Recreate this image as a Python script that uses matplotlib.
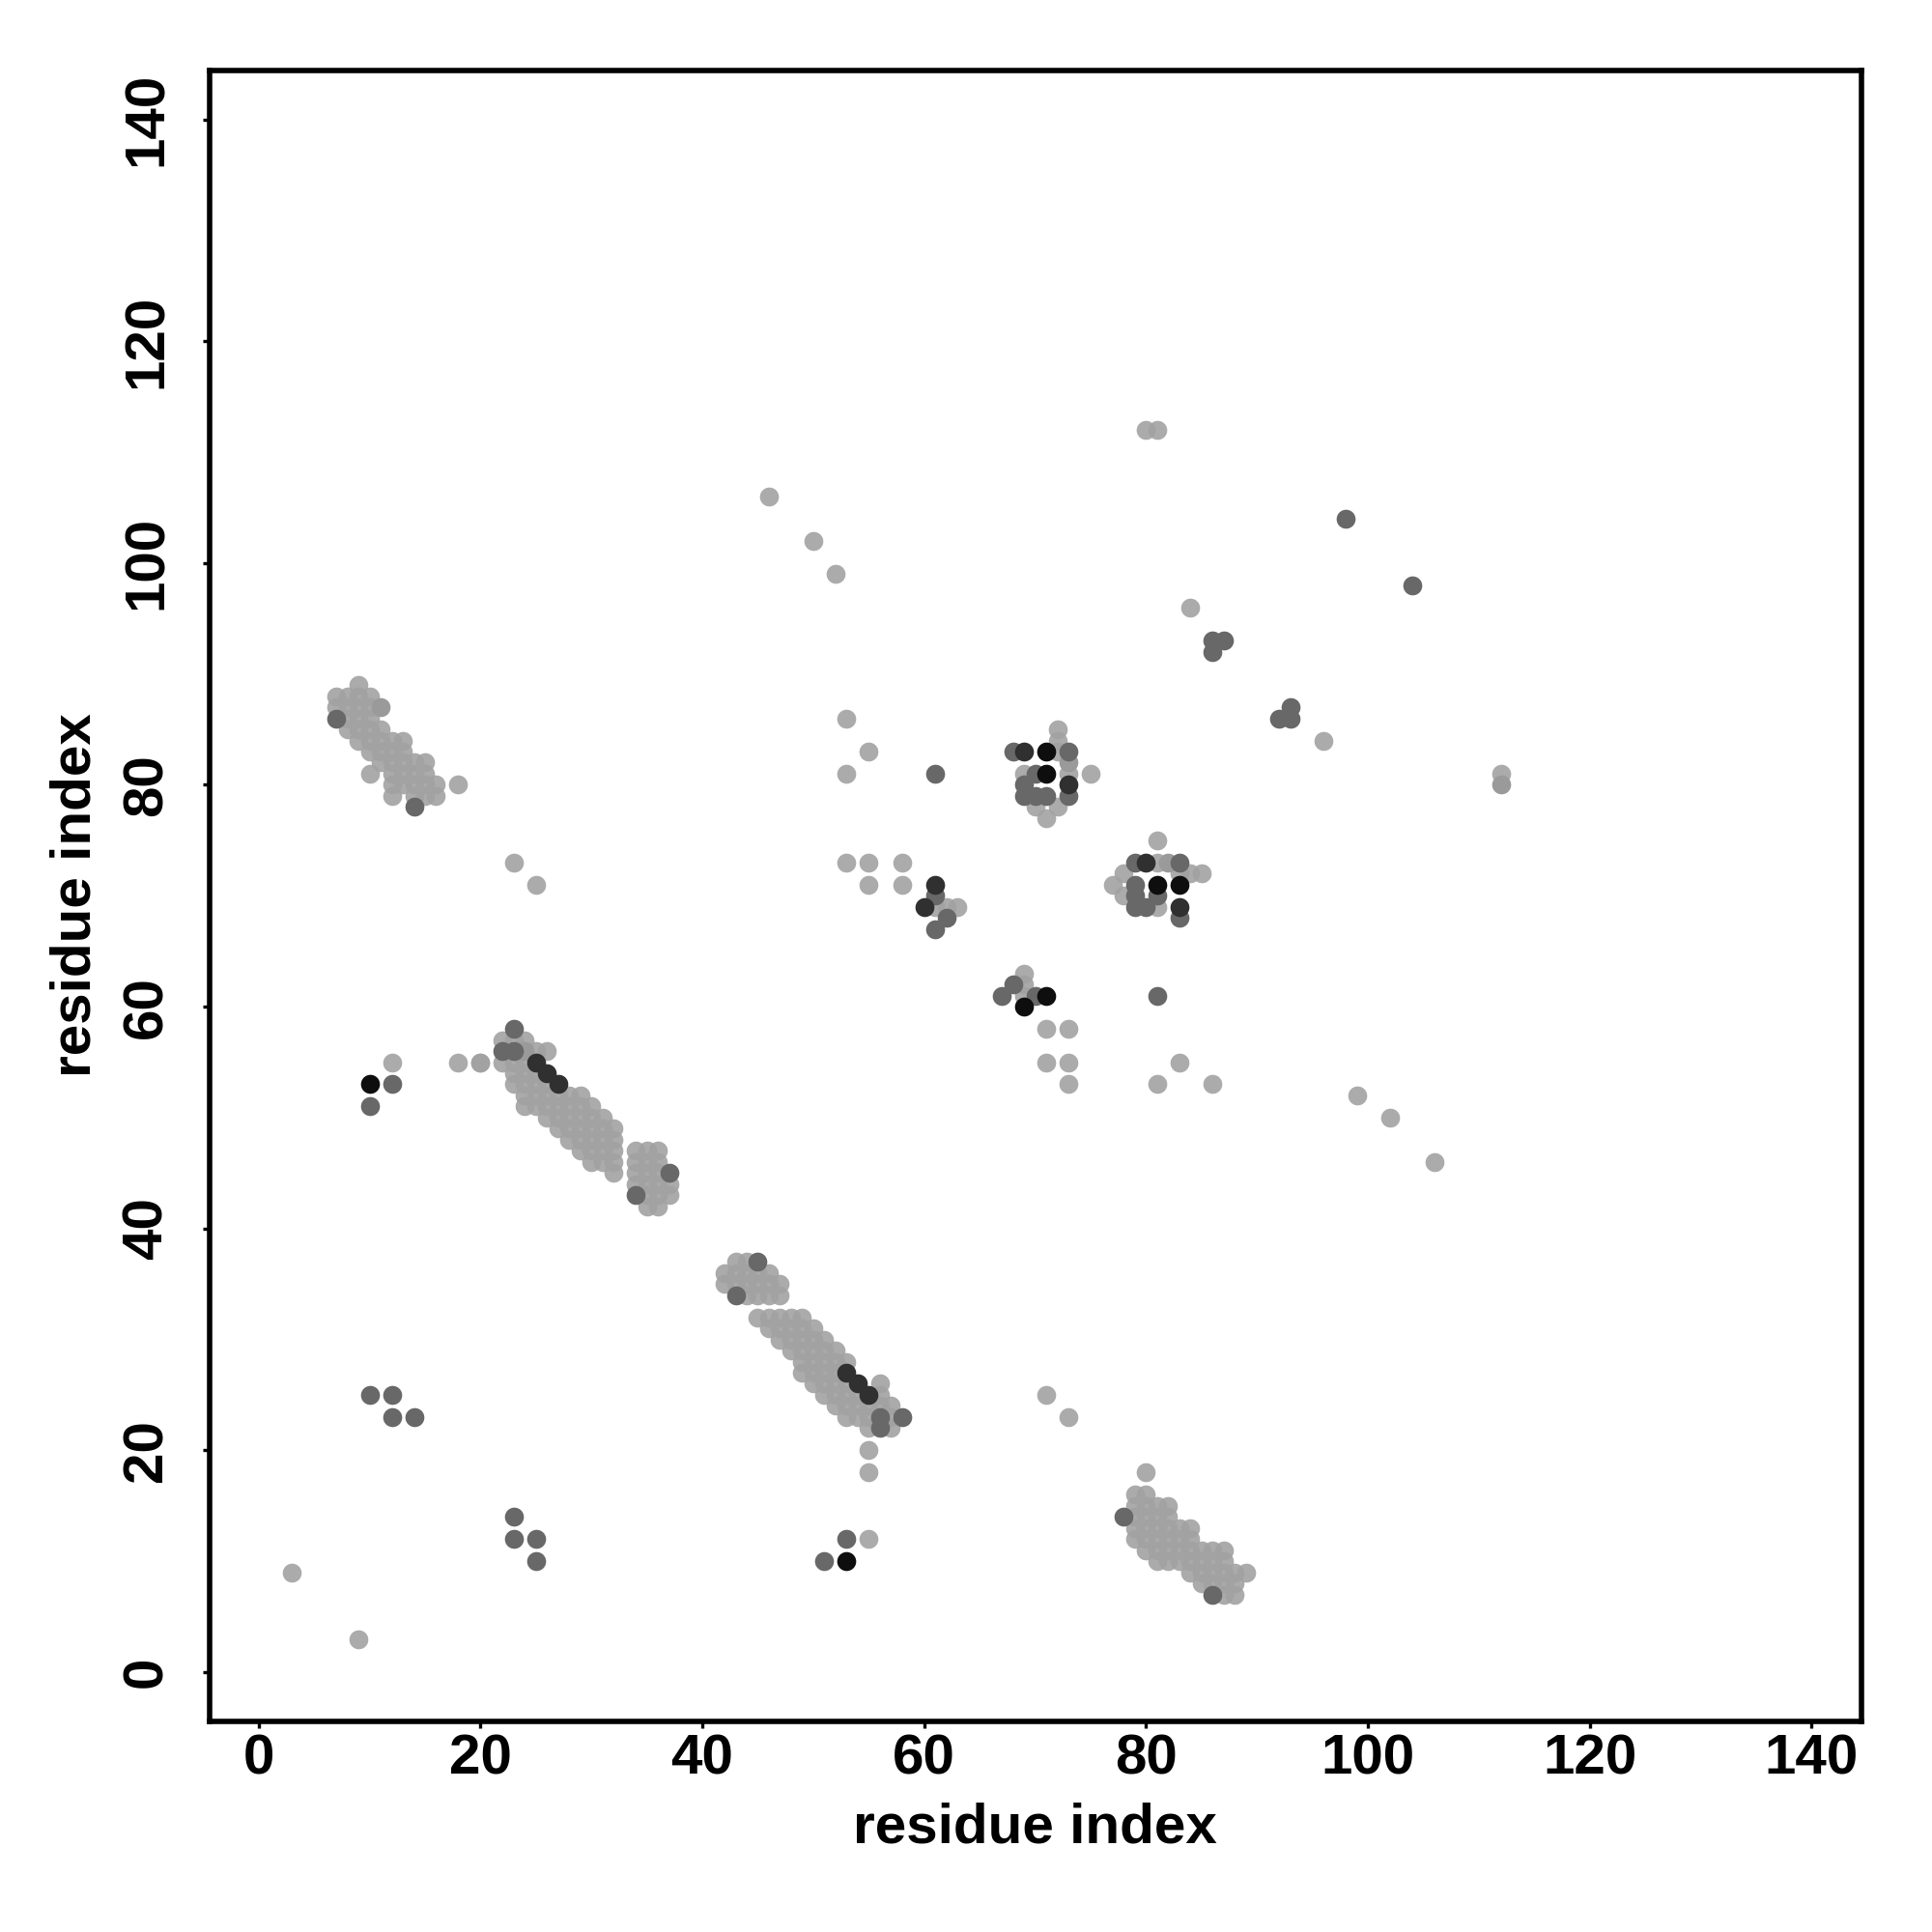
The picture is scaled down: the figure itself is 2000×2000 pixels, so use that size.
import matplotlib
matplotlib.use('Agg')
import matplotlib.pyplot as plt

plt.rcParams['font.family'] = ['Liberation Sans', 'DejaVu Sans']
plt.rcParams['font.weight'] = 'bold'

# ---- contacts, grouped by grey level ----
# isolated light contacts (residue i, residue j)
light_x = [3, 9, 12, 18, 20, 18, 23, 25, 55, 55, 55, 71, 73, 80, 81, 84, 96, 112,
           99, 102, 106, 81, 83, 86, 75, 71, 73, 71, 73, 73, 81,
           46, 50, 52, 53, 55, 53, 53, 55, 58, 55, 58,
           72, 72, 72, 73, 69, 70, 71, 72,
           81, 83, 84, 85, 78, 77, 78, 81,
           61, 62, 63, 69, 69, 69]
light_y = [9, 3, 55, 55, 55, 80, 73, 71, 12, 20, 18, 25, 23, 112, 112, 96, 84, 81,
           52, 50, 46, 53, 55, 53, 81, 58, 58, 55, 55, 53, 75,
           106, 102, 99, 86, 83, 81, 73, 73, 73, 71, 71,
           85, 84, 83, 81, 81, 78, 77, 78,
           73, 72, 72, 72, 72, 71, 70, 69,
           69, 69, 69, 63, 62, 61]

# light contacts in the four strands: (row j, residues i)
band1_rows = [(89, [9]), (88, [7, 8, 9, 10]), (87, [7, 8, 9, 10]), (86, [8, 9, 10]),
              (85, [8, 9, 10, 11]), (84, [9, 10, 11, 12, 13]), (83, [10, 11, 12, 13]),
              (82, [11, 12, 13, 14, 15]), (81, [10, 12, 13, 14, 15]),
              (80, [12, 13, 14, 15, 16]), (79, [12, 14, 15, 16])]
band2_rows = [(57, [22, 23, 24]), (56, [25, 26]), (55, [20, 22, 23, 24]),
              (54, [23, 24, 25]), (53, [23, 24, 25, 26]), (52, [24, 25, 26, 27, 28, 29]),
              (51, [24, 25, 26, 27, 28, 29, 30]), (50, [26, 27, 28, 29, 30, 31]),
              (49, [27, 28, 29, 30, 31, 32]), (48, [28, 29, 30, 31, 32]),
              (47, [29, 30, 31, 32, 34, 35, 36]), (46, [30, 31, 32, 34, 35, 36]),
              (45, [32, 34, 35, 36]), (44, [34, 35, 36, 37]), (43, [35, 36, 37]),
              (42, [35, 36])]
band3_rows = [(37, [43, 44]), (36, [42, 43, 44, 45, 46]), (35, [42, 43, 44, 45, 46, 47]),
              (34, [44, 45, 46, 47]), (32, [45, 46, 47, 48, 49]), (31, [46, 47, 48, 49, 50]),
              (30, [47, 48, 49, 50, 51]), (29, [48, 49, 50, 51, 52]),
              (28, [49, 50, 51, 52, 53]), (27, [49, 50, 51, 52]), (26, [50, 51, 52, 53, 56]),
              (25, [51, 52, 53, 54, 56]), (24, [52, 53, 54, 55, 56, 57]),
              (23, [53, 54, 55, 57]), (22, [55, 57])]
band4_rows = [(18, [80]), (16, [79, 80]), (15, [79, 80, 81, 82]), (14, [79, 80, 81, 82]),
              (13, [79, 80, 81, 82, 83, 84]), (12, [79, 80, 81, 82, 83, 84]),
              (11, [80, 81, 82, 83, 84, 85, 86, 87]), (10, [81, 82, 83, 84, 85, 86, 87]),
              (9, [84, 85, 86, 87, 88, 89]), (8, [85, 86, 87, 88]), (7, [87, 88])]

# slightly darker light grey
pale_x = [11, 24, 73, 82, 112]
pale_y = [87, 56, 82, 73, 80]

# medium grey
mid_x = [10, 12, 10, 12, 12, 14, 23, 23, 25, 25, 51, 53, 86, 87, 86, 98, 104, 92, 93, 93, 81, 61,
         68, 70, 69, 69, 70, 71, 73, 73,
         79, 79, 79, 79, 80, 81, 83, 83,
         61, 62, 61, 68, 67, 70,
         7, 14, 23, 22, 23, 37, 34, 45, 43, 56, 58, 56, 78, 86]
mid_y = [51, 53, 25, 25, 23, 23, 14, 12, 12, 10, 10, 12, 93, 93, 92, 104, 98, 86, 87, 86, 61, 81,
         83, 81, 80, 79, 79, 79, 79, 83,
         73, 71, 70, 69, 69, 70, 73, 68,
         70, 68, 67, 62, 61, 61,
         86, 78, 58, 56, 56, 45, 43, 37, 34, 23, 23, 22, 14, 7]

# dark grey
dark_x = [69, 73, 80, 83, 61, 60, 25, 26, 27, 53, 54, 55]
dark_y = [83, 80, 73, 69, 71, 69, 55, 54, 53, 27, 26, 25]

# near black
black_x = [10, 53, 71, 71, 81, 83, 71, 69]
black_y = [53, 10, 83, 81, 71, 71, 61, 60]

ticks = [0, 20, 40, 60, 80, 100, 120, 140]

# expand the strand rows
for rows in [band1_rows, band2_rows, band3_rows, band4_rows]:
    for j, cols in rows:
        for i in cols:
            light_x.append(i)
            light_y.append(j)

fig = plt.figure(figsize=(10, 10), dpi=200)
ax = fig.add_axes([0.1085, 0.109, 0.855, 0.8545])

size = 50
ax.scatter(light_x, light_y, s=size, c='#a2a2a2', alpha=0.9, linewidths=0)
ax.scatter(pale_x, pale_y, s=size, c='#9a9a9a', linewidths=0)
ax.scatter(mid_x, mid_y, s=size, c='#686868', linewidths=0)
ax.scatter(dark_x, dark_y, s=size, c='#303030', linewidths=0)
ax.scatter(black_x, black_y, s=size, c='#0e0e0e', linewidths=0)

ax.set_xlim(-4.42, 144.5)
ax.set_ylim(-4.44, 144.4)
ax.set_xticks(ticks)
ax.set_yticks(ticks)
ax.set_xticklabels([str(t) for t in ticks])
ax.set_yticklabels([str(t) for t in ticks], rotation=90, va='center')

for sp in ax.spines.values():
    sp.set_linewidth(2.0)
ax.tick_params(axis='both', direction='out', length=2.5, width=1.2, labelsize=21)
ax.tick_params(axis='x', pad=2)
ax.tick_params(axis='y', pad=11)

fig.text(0.5355, 0.054, 'residue index', ha='center', va='center', fontsize=21,
         fontweight='bold')
fig.text(0.0395, 0.5365, 'residue index', ha='center', va='center', fontsize=21,
         fontweight='bold', rotation=90)

plt.savefig('out.png', dpi=200, facecolor='white')
